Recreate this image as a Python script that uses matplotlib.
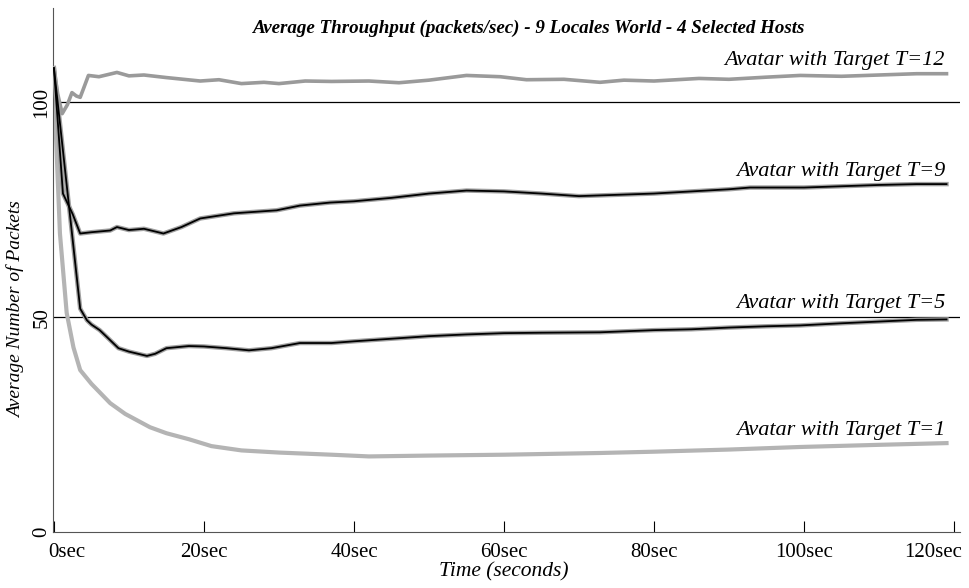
import matplotlib.pyplot as plt
import matplotlib.transforms as mtransforms

plt.rcParams['font.family'] = ['Liberation Serif', 'DejaVu Serif']

# time (sec) and average number of packets
t12_t = [0, 0.5, 1.1, 1.8, 2.4, 3.0, 3.5, 4.0, 4.6, 6, 8.4, 10, 12, 15, 19.5, 22, 25, 28, 30,
         33.5, 37, 42, 46, 50, 55, 59.5, 63, 68, 72.8, 76, 80, 86, 90, 95, 99.5, 105, 110, 115, 119]
t12_v = [108, 102, 97.4, 99.5, 102.3, 101.5, 101.2, 103.5, 106.3, 106, 107, 106.2, 106.4, 105.8,
         105, 105.3, 104.4, 104.7, 104.4, 105, 104.9, 105, 104.6, 105.2, 106.3, 106, 105.3, 105.4,
         104.7, 105.2, 105, 105.6, 105.4, 105.9, 106.3, 106.1, 106.4, 106.7, 106.7]

t9_t = [0, 1.2, 2.5, 3.5, 5, 7.5, 8.4, 10, 12, 14.6, 17, 19.5, 24, 29.7, 32.8, 36.8, 40, 45,
        50, 55, 60, 65, 70, 75, 80, 85, 90, 92.8, 100, 105, 110, 115, 119]
t9_v = [108, 78.8, 74, 69.5, 69.8, 70.2, 71, 70.3, 70.6, 69.5, 71, 73, 74.2, 74.9, 76, 76.7,
        77, 77.8, 78.8, 79.5, 79.3, 78.8, 78.2, 78.5, 78.8, 79.3, 79.8, 80.2, 80.2, 80.5, 80.8, 81, 81]

t5_t = [0, 3.5, 4.4, 5, 6.1, 7, 8.6, 10, 12.4, 13.5, 15, 18, 20, 23, 26, 29, 32.8, 37, 40, 45,
        50, 55, 60, 65, 72.8, 80, 85, 90, 95, 99.5, 105, 110, 115, 119]
t5_v = [108, 52, 49.3, 48.3, 47, 45.5, 42.8, 42, 41, 41.5, 42.8, 43.3, 43.2, 42.8, 42.3, 42.8,
        44, 44, 44.4, 45, 45.6, 46, 46.3, 46.4, 46.5, 47, 47.2, 47.6, 47.9, 48.1, 48.6, 49, 49.4, 49.5]

t1_t = [0, 0.8, 1.7, 2.6, 3.5, 5, 7.5, 9.5, 12.8, 15, 18, 21, 25, 30, 37, 42, 50, 60,
        72.8, 80, 90, 99.5, 110, 119]
t1_v = [104, 69.5, 51, 43, 37.7, 34.5, 30, 27.5, 24.4, 23, 21.6, 20, 19, 18.5, 18,
        17.6, 17.8, 18, 18.4, 18.7, 19.2, 19.8, 20.3, 20.7]

targets = [100, 50]
labels = ['Avatar with Target T=12', 'Avatar with Target T=9',
          'Avatar with Target T=5', 'Avatar with Target T=1']
label_y = [108.8, 82.8, 52.1, 22.6]
xticks = [0, 20, 40, 60, 80, 100, 120]
yticks = [0, 50, 100]

fig = plt.figure(figsize=(9.7, 5.88), dpi=100)
ax = fig.add_axes([0.0546, 0.0952, 0.9351, 0.8912])

for y in targets:
    ax.axhline(y, color='black', lw=0.9, zorder=1)

ax.plot(t1_t, t1_v, color='#b4b4b4', lw=3, zorder=2)
ax.plot(t12_t, t12_v, color='#9a9a9a', lw=2.6, zorder=2)
for tt, vv in [(t5_t, t5_v), (t9_t, t9_v)]:
    ax.plot(tt, vv, color='#a0a0a0', lw=3.2, zorder=3)
    ax.plot(tt, vv, color='black', lw=1.3, zorder=4)

for lab, y in zip(labels, label_y):
    ax.text(118.8, y, lab, ha='right', va='baseline', fontsize=16, style='italic')

fig.text(0.546, 0.952, 'Average Throughput (packets/sec) - 9 Locales World - 4 Selected Hosts',
         ha='center', va='center', fontsize=13.7, fontweight='bold', style='italic')

ax.set_xlim(-0.13, 120.8)
ax.set_ylim(0, 122)
ax.set_xticks(xticks)
ax.set_xticklabels(['{}sec'.format(x) for x in xticks])
ax.set_yticks(yticks)
ax.set_yticklabels([str(y) for y in yticks], rotation=90, va='center')
ax.tick_params(axis='x', direction='in', length=8, labelsize=15, pad=8)
ax.tick_params(axis='y', length=0, labelsize=15, pad=1)

# first and last tick labels sit inside the figure
xl = ax.get_xticklabels()
xl[0].set_ha('left')
xl[0].set_transform(xl[0].get_transform() + mtransforms.ScaledTranslation(-0.06, 0, fig.dpi_scale_trans))
xl[-1].set_ha('right')
xl[-1].set_transform(xl[-1].get_transform() + mtransforms.ScaledTranslation(0.08, 0, fig.dpi_scale_trans))

ax.spines['top'].set_visible(False)
ax.spines['right'].set_visible(False)
ax.spines['left'].set_color('#555555')
ax.spines['bottom'].set_color('#555555')

ax.set_xlabel('Time (seconds)', fontsize=15.5, style='italic')
ax.xaxis.set_label_coords(0.497, -0.058)
ax.set_ylabel('Average Number of Packets', fontsize=14, style='italic')
ax.yaxis.set_label_coords(-0.031, 0.424)

fig.savefig('out.png', dpi=100)
